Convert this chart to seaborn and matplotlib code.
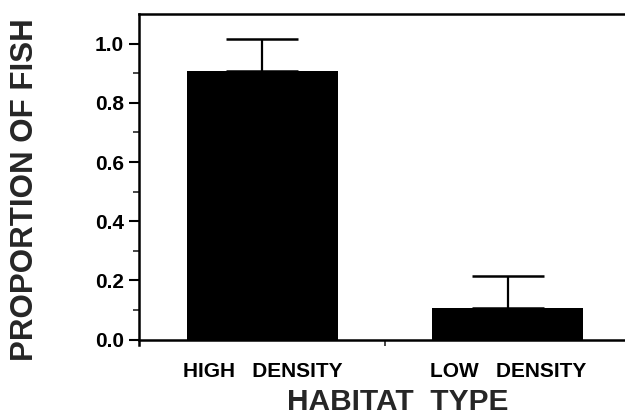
import matplotlib
matplotlib.use("Agg")
import matplotlib.pyplot as plt
import seaborn as sns
import pandas as pd
from matplotlib.ticker import FixedLocator

categories = ["HIGH   DENSITY", "LOW   DENSITY"]
proportions = [0.907, 0.106]
errors_upper = [0.11, 0.11]
ytick_values = [0.0, 0.2, 0.4, 0.6, 0.8, 1.0]
ytick_labels = ["0.0", "0.2", "0.4", "0.6", "0.8", "1.0"]

sns.set_style("white")
plt.rcParams["font.family"] = ["Liberation Sans", "DejaVu Sans"]
plt.rcParams["font.weight"] = "bold"

df = pd.DataFrame({"habitat": categories, "prop": proportions})

fig = plt.figure(figsize=(6.25, 4.17), dpi=100)
ax = fig.add_axes([139 / 625, 1 - 345 / 417, 1 - 139 / 625, (345 - 14) / 417])

sns.barplot(data=df, x="habitat", y="prop", color="black", width=0.615,
            errorbar=None, ax=ax, saturation=1)
for p in ax.patches:
    p.set_edgecolor("black")
    p.set_linewidth(0)

xs = list(range(len(categories)))
ax.errorbar(xs, proportions, yerr=[[0] * len(errors_upper), errors_upper],
            fmt="none", ecolor="black", elinewidth=1.6, capsize=26, capthick=1.8)

ax.set_xlim(-0.503, 1.477)
ax.set_yticks(ytick_values)
ax.set_yticklabels(ytick_labels)
ax.yaxis.set_minor_locator(FixedLocator([0.1, 0.3, 0.5, 0.7, 0.9]))
ax.tick_params(axis="y", which="major", direction="out", length=7, width=1.5,
               pad=4, left=True, labelsize=15, colors="black")
ax.tick_params(axis="y", which="minor", direction="out", length=4, width=1.2,
               left=True)
ax.set_xticks(xs)
ax.set_xticklabels(categories)
ax.xaxis.set_minor_locator(FixedLocator([0.5]))
ax.tick_params(axis="x", which="major", length=0, pad=16, labelsize=15,
               colors="black")
ax.tick_params(axis="x", which="minor", direction="out", length=4, width=1.2,
               bottom=True)

for side in ["left", "top", "bottom"]:
    ax.spines[side].set_visible(True)
    ax.spines[side].set_linewidth(1.8)
    ax.spines[side].set_color("black")
ax.spines["right"].set_visible(False)
ax.spines["bottom"].set_position(("data", 0.0))
ax.set_ylim(-0.018, 1.10)

ax.set_xlabel("")
ax.set_ylabel("")
fig.text(398 / 625, (417 - 410) / 417, "HABITAT  TYPE", fontsize=21.5,
         fontweight="bold", ha="center", va="baseline")
fig.text(25 / 625, 1 - 190 / 417, "PROPORTION OF FISH", fontsize=22.5,
         fontweight="bold", ha="center", va="center", rotation=90)

fig.savefig("out.png", dpi=100, facecolor="white")
